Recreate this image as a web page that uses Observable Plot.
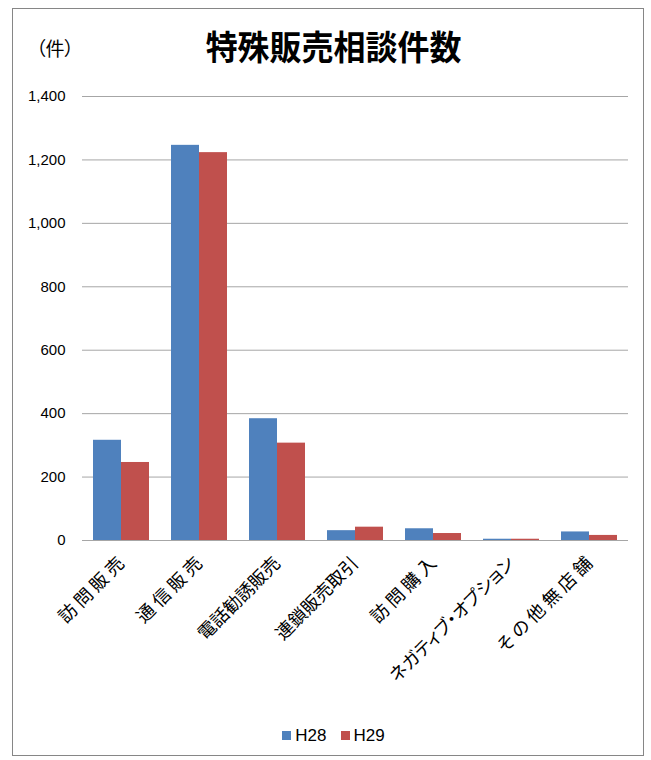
<!DOCTYPE html>
<html><head><meta charset="utf-8">
<script src="https://cdn.jsdelivr.net/npm/d3@7"></script>
<script src="https://cdn.jsdelivr.net/npm/@observablehq/plot@0.6"></script>
<style>
body{margin:0;background:#fff;font-family:"Liberation Sans",sans-serif;}
#frame{position:absolute;left:12px;top:8px;width:632px;height:748px;border:1px solid #868686;box-sizing:border-box;}
#unit{position:absolute;left:36px;top:34px;font:19px "Noto Sans CJK JP";color:#000;font-feature-settings:"palt";line-height:28px;}
#title{position:absolute;left:8px;width:651px;top:24px;text-align:center;font:bold 34px "Noto Sans CJK JP";color:#000;line-height:44px;transform:scaleX(0.94);}
#chart{position:absolute;left:0;top:80px;}
#chart svg text{font-feature-settings:"palt";}
#legend{position:absolute;left:8px;width:651px;top:726px;text-align:center;font:17px "Liberation Sans",sans-serif;color:#000;}
#legend span.sw{display:inline-block;width:9px;height:9px;margin-right:4px;vertical-align:1px;}
#legend span.it{margin:0 7px;}
</style></head>
<body>
<div id="frame"></div>
<div id="unit">（件）</div>
<div id="title">特殊販売相談件数</div>
<div id="chart"></div>
<div id="legend"></div>
<script>
const categories = ["訪 問 販 売","通 信 販 売","電話勧誘販売","連鎖販売取引","訪 問 購 入","ネガティブ・オプション","そ の 他 無 店 舗"];
const seriesNames = ["H28","H29"];
const h28 = [316,1246,384,31,37,4,27];
const h29 = [246,1223,307,42,22,4,16];
const yTicks = [0,200,400,600,800,1000,1200,1400];
const colors = ["#4F81BD","#C0504D"];

const rows = [];
categories.forEach((c,i)=>{
  rows.push({category:c, series:seriesNames[0], value:h28[i]});
  rows.push({category:c, series:seriesNames[1], value:h29[i]});
});

const chart = Plot.plot({
  width:651, height:630,
  marginTop:16, marginBottom:170, marginLeft:80, marginRight:21,
  style:{fontFamily:"'Liberation Sans', sans-serif", fontSize:"15px", color:"#000", background:"transparent"},
  fx:{domain:categories, paddingInner:0, paddingOuter:0},
  x:{domain:seriesNames, paddingInner:0, paddingOuter:0.39, axis:null},
  y:{domain:[0,1400]},
  color:{domain:seriesNames, range:colors},
  marks:[
    Plot.gridY(yTicks, {stroke:"#a6a6a6", strokeOpacity:1}),
    Plot.barY(rows, {fx:"category", x:"series", y:"value", fill:"series"}),
    Plot.axisY(yTicks, {tickSize:0, tickPadding:17, tickFormat:d3.format(","), label:null, fontSize:15}),
    Plot.axisFx({anchor:"bottom", tickRotate:-45, tickSize:0, tickPadding:20, label:null, fontSize:18, fontFamily:"Noto Sans CJK JP"})
  ]
});
document.getElementById("chart").appendChild(chart);

const leg = document.getElementById("legend");
seriesNames.forEach((s,i)=>{
  const it = document.createElement("span"); it.className="it";
  const sw = document.createElement("span"); sw.className="sw"; sw.style.background=colors[i];
  it.appendChild(sw); it.appendChild(document.createTextNode(s));
  leg.appendChild(it);
});
</script>
</body></html>
